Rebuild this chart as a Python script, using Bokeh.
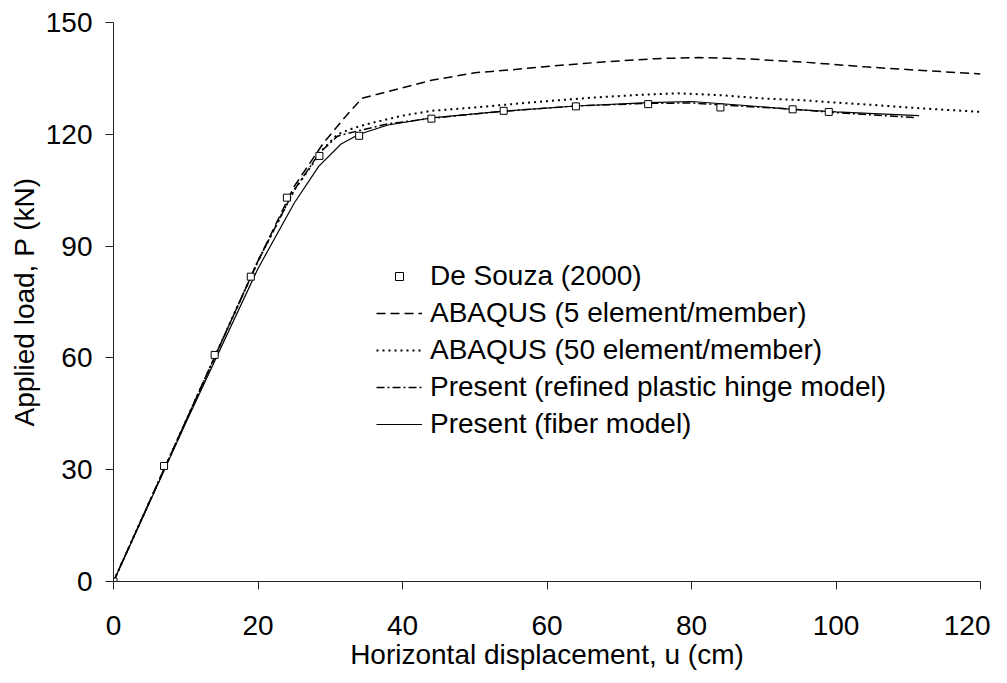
from bokeh.plotting import figure
from bokeh.models import Range1d, FixedTicker, Legend, LegendItem
from bokeh.embed import file_html
from bokeh.resources import INLINE

# De Souza (2000) experimental points
souza_x = [0, 7, 14, 19, 24, 28.5, 34, 44, 54, 64, 74, 84, 94, 99]
souza_y = [0, 31, 60.8, 81.8, 103, 114.2, 119.6, 124.2, 126.3, 127.5, 128.1, 127.2, 126.7, 126.0]

# ABAQUS (5 element/member)
ab5_x = [0, 10, 20, 25, 29, 32, 34.4, 40, 44, 50, 55, 60, 65, 70, 75, 81, 85, 88, 96, 104, 113, 120]
ab5_y = [0, 43, 86, 106, 117.5, 124.5, 129.7, 132.5, 134.5, 136.5, 137.3, 138.2, 139, 139.7, 140.3, 140.6, 140.4, 140.2, 139.3, 138.1, 137, 136.2]

# ABAQUS (50 element/member)
ab50_x = [0, 10, 20, 25, 29, 31, 33, 35, 40, 44, 50, 54, 60, 66, 72, 78, 84, 90, 95, 100, 105, 110, 115, 120]
ab50_y = [0, 43, 86, 105, 116, 120, 121.5, 122.7, 125, 126.3, 127.2, 127.9, 128.9, 129.8, 130.5, 131.0, 130.5, 129.6, 129.2, 128.5, 127.9, 127.2, 126.6, 126.0]

# Present (refined plastic hinge model)
rph_x = [0, 10, 20, 25, 28.5, 31, 34, 38, 44, 54, 64, 74, 80, 85, 90, 95, 100, 105, 111]
rph_y = [0, 43, 86, 105, 115, 119.5, 121, 122.8, 124.3, 126.2, 127.6, 128.3, 128.4, 127.8, 127.2, 126.6, 125.8, 125.2, 124.5]

# Present (fiber model)
fib_x = [0, 10, 20, 25, 28.4, 31.5, 34, 38, 44, 54, 64, 74, 80, 87, 94, 100, 106, 111.5]
fib_y = [0, 42.5, 84, 101.5, 111.4, 117.4, 120, 122.5, 124.4, 126.2, 127.6, 128.5, 128.8, 127.8, 126.7, 126, 125.5, 125.0]

x_ticks = [0, 20, 40, 60, 80, 100, 120]
y_ticks = [0, 30, 60, 90, 120, 150]

FONT = "Liberation Sans"
FS = "28px"

p = figure(width=990, height=672, output_backend="svg", toolbar_location=None,
           x_range=Range1d(0, 120), y_range=Range1d(0, 150),
           min_border_left=113, min_border_right=10, min_border_top=22, min_border_bottom=91)
p.outline_line_color = None
p.grid.visible = False
p.background_fill_color = "white"
p.border_fill_color = "white"

r_ab5 = p.line(ab5_x, ab5_y, line_color="black", line_width=1.5, line_dash="9 5")
r_ab50 = p.line(ab50_x, ab50_y, line_color="black", line_width=2, line_dash="2 4")
r_rph = p.line(rph_x, rph_y, line_color="black", line_width=1.5, line_dash="8 3 2 3")
r_fib = p.line(fib_x, fib_y, line_color="black", line_width=1.2)
r_souza = p.scatter(souza_x, souza_y, marker="square", size=7, fill_color="white",
                    line_color="black", line_width=1)

for ax, ticks in ((p.xaxis[0], x_ticks), (p.yaxis[0], y_ticks)):
    ax.ticker = FixedTicker(ticks=ticks)
    ax.minor_tick_line_color = None
    ax.major_tick_in = 0
    ax.major_tick_out = 8
    ax.axis_line_color = "#222222"
    ax.major_tick_line_color = "#222222"
    ax.major_label_text_font = FONT
    ax.major_label_text_font_size = FS
    ax.major_label_text_color = "black"
    ax.axis_label_text_font = FONT
    ax.axis_label_text_font_size = FS
    ax.axis_label_text_font_style = "normal"
    ax.axis_label_text_color = "black"

p.xaxis.axis_label = "Horizontal displacement, u (cm)"
p.yaxis.axis_label = "Applied load, P (kN)"
p.xaxis.major_label_standoff = 26
p.yaxis.major_label_standoff = 13
p.xaxis.axis_label_standoff = 1
p.yaxis.axis_label_standoff = 3

legend = Legend(items=[
    LegendItem(label="De Souza (2000)", renderers=[r_souza]),
    LegendItem(label="ABAQUS (5 element/member)", renderers=[r_ab5]),
    LegendItem(label="ABAQUS (50 element/member)", renderers=[r_ab50]),
    LegendItem(label="Present (refined plastic hinge model)", renderers=[r_rph]),
    LegendItem(label="Present (fiber model)", renderers=[r_fib]),
], location=(263, 141))
legend.border_line_color = None
legend.background_fill_alpha = 0
legend.padding = 0
legend.margin = 0
legend.glyph_width = 46
legend.glyph_height = 20
legend.label_height = 20
legend.spacing = 5
legend.label_standoff = 8
legend.label_text_font = FONT
legend.label_text_font_size = FS
legend.label_text_color = "black"
p.add_layout(legend, "center")

open("out.html", "w").write(file_html(p, INLINE))
